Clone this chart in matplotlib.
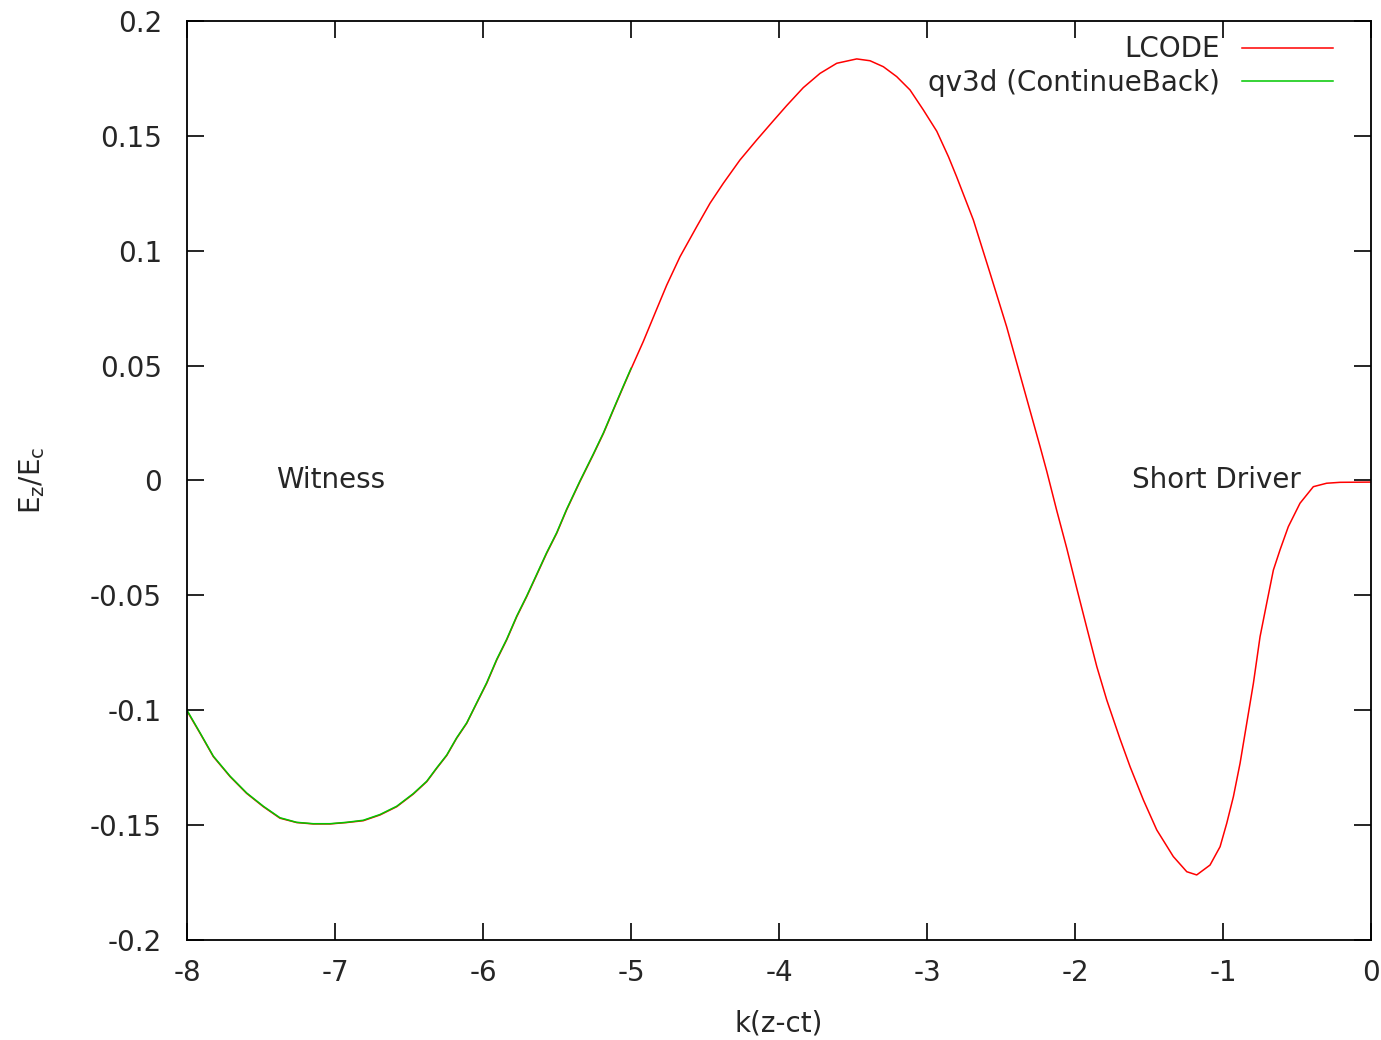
import matplotlib.pyplot as plt

plt.rcParams['font.family'] = 'DejaVu Sans'

# Ez/Ec vs k(z-ct), LCODE run over the whole window
lcode_x = [-8.000, -7.912, -7.822, -7.709, -7.597, -7.484, -7.372, -7.259,
           -7.147, -7.034, -6.922, -6.809, -6.696, -6.583, -6.471, -6.380,
           -6.313, -6.245, -6.178, -6.110, -6.043, -5.975, -5.907, -5.840,
           -5.772, -5.705, -5.637, -5.570, -5.502, -5.435, -5.345, -5.255,
           -5.186, -5.119, -5.052, -5.000, -4.917, -4.827, -4.759, -4.669,
           -4.556, -4.466, -4.376, -4.264, -4.151, -4.038, -3.948, -3.836,
           -3.723, -3.610, -3.475, -3.385, -3.295, -3.205, -3.115, -3.025,
           -2.934, -2.855, -2.800, -2.687, -2.574, -2.462, -2.349, -2.236,
           -2.191, -2.124, -2.056, -1.989, -1.921, -1.853, -1.786, -1.696,
           -1.628, -1.538, -1.448, -1.336, -1.245, -1.178, -1.088, -1.020,
           -0.975, -0.930, -0.885, -0.840, -0.795, -0.750, -0.705, -0.660,
           -0.615, -0.559, -0.480, -0.390, -0.300, -0.209, 0.000]
lcode_y = [-0.1003, -0.1100, -0.1202, -0.1289, -0.1362, -0.1420, -0.1470,
           -0.1489, -0.1495, -0.1495, -0.1489, -0.1481, -0.1456, -0.1420,
           -0.1365, -0.1311, -0.1253, -0.1197, -0.1122, -0.1057, -0.0970,
           -0.0883, -0.0781, -0.0694, -0.0593, -0.0506, -0.0411, -0.0317,
           -0.0230, -0.0128, -0.0005, 0.0112, 0.0205, 0.0307, 0.0408, 0.0485,
           0.0605, 0.0745, 0.0850, 0.0974, 0.1105, 0.1207, 0.1294, 0.1395,
           0.1482, 0.1566, 0.1632, 0.1710, 0.1772, 0.1816, 0.1835, 0.1827,
           0.1801, 0.1758, 0.1700, 0.1613, 0.1520, 0.1409, 0.1322, 0.1134,
           0.0902, 0.0669, 0.0408, 0.0147, 0.0040, -0.0130, -0.0295, -0.0468,
           -0.0640, -0.0810, -0.0955, -0.1125, -0.1246, -0.1391, -0.1521,
           -0.1637, -0.1703, -0.1717, -0.1674, -0.1594, -0.1492, -0.1376,
           -0.1231, -0.1057, -0.0883, -0.0680, -0.0534, -0.0390, -0.0302,
           -0.0201, -0.0099, -0.0027, -0.0012, -0.0008, -0.0007]

# qv3d (ContinueBack), only the witness part
qv3d_x = [-8.000, -7.912, -7.822, -7.709, -7.597, -7.484, -7.372, -7.259,
          -7.147, -7.034, -6.922, -6.809, -6.696, -6.583, -6.471, -6.380,
          -6.313, -6.245, -6.178, -6.110, -6.043, -5.975, -5.907, -5.840,
          -5.772, -5.705, -5.637, -5.570, -5.502, -5.435, -5.345, -5.255,
          -5.186, -5.119, -5.052, -5.000]
qv3d_y = [-0.1000, -0.1098, -0.1200, -0.1287, -0.1360, -0.1418, -0.1468,
          -0.1488, -0.1494, -0.1494, -0.1488, -0.1479, -0.1454, -0.1418,
          -0.1363, -0.1309, -0.1251, -0.1195, -0.1120, -0.1055, -0.0968,
          -0.0880, -0.0778, -0.0691, -0.0590, -0.0503, -0.0408, -0.0314,
          -0.0227, -0.0125, -0.0002, 0.0115, 0.0208, 0.0310, 0.0411, 0.0488]

xticks = [-8, -7, -6, -5, -4, -3, -2, -1, 0]
yticks = [-0.2, -0.15, -0.1, -0.05, 0, 0.05, 0.1, 0.15, 0.2]
ytick_labels = ['-0.2', '-0.15', '-0.1', '-0.05', '0', '0.05', '0.1', '0.15', '0.2']

fs = 20
txt = '#262626'

fig = plt.figure(figsize=(13.81, 10.40), dpi=100)
ax = fig.add_axes([0.1354, 0.0962, 0.8574, 0.8836])

ax.plot(lcode_x, lcode_y, color='#ff0000', lw=1.1, label='LCODE')
ax.plot(qv3d_x, qv3d_y, color='#00c800', lw=1.1, label='qv3d (ContinueBack)')

ax.set_xlim(-8, 0)
ax.set_ylim(-0.2, 0.2)
ax.set_xticks(xticks)
ax.set_xticklabels([str(t) for t in xticks])
ax.set_yticks(yticks)
ax.set_yticklabels(ytick_labels)
ax.tick_params(direction='in', length=12, width=1.2, top=True, right=True,
               labelsize=fs, labelcolor=txt)
ax.tick_params(axis='y', pad=18)
ax.tick_params(axis='x', pad=14)
for s in ax.spines.values():
    s.set_linewidth(1.3)

ax.set_xlabel('k(z-ct)', fontsize=fs, color=txt, labelpad=16)
ax.set_ylabel(r'E$_\mathregular{z}$/E$_\mathregular{c}$', fontsize=fs, color=txt, labelpad=31)

ax.text(-7.4, 0, 'Witness', fontsize=fs, color=txt, va='center', ha='left')
ax.text(-1.615, 0, 'Short Driver', fontsize=fs, color=txt, va='center', ha='left')

leg = ax.legend(loc='upper right', frameon=False, fontsize=fs, markerfirst=False,
                handlelength=3.25, handletextpad=0.8, labelspacing=0.2,
                borderaxespad=0.3, bbox_to_anchor=(0.984, 1.0055))
for t in leg.get_texts():
    t.set_color(txt)

fig.savefig('out.png', dpi=100)
